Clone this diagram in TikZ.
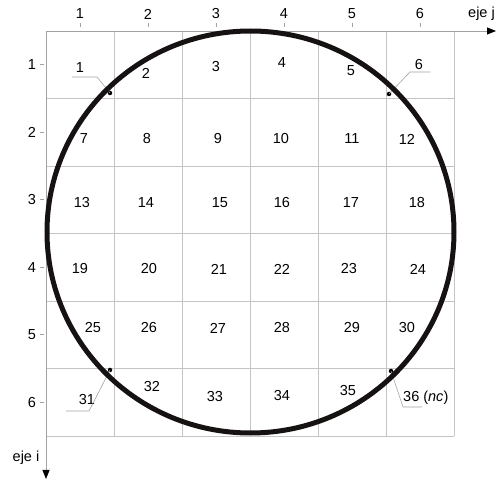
\documentclass[tikz,border=0pt]{standalone}
\usepackage{fontspec}
\setmainfont{Liberation Sans}
\usepackage{tikz}
\usetikzlibrary{arrows.meta, calc}
\usepackage{xcolor}
\definecolor{gridgray}{HTML}{C4C4C4}
\definecolor{axisgray}{HTML}{A2A2A2}
\definecolor{ringblack}{HTML}{161212}

\begin{document}
\begin{tikzpicture}[x=1pt, y=-1pt, font=\fontsize{14.5}{17}\selectfont,
  cellnum/.style={inner sep=0pt},
  axisnum/.style={inner sep=0pt},
  leader/.style={draw=axisgray, line width=0.6pt},
  spot/.style={circle, fill=black, inner sep=0pt, minimum size=4.5pt},
  axisline/.style={draw=axisgray, line width=0.9pt, -{Triangle[length=9pt, width=7pt, color=black]}}]
\useasboundingbox (0,0) rectangle (499,481);
% grid
\foreach \k in {1,...,6} {
  \draw[gridgray, line width=0.8pt] (46+68*\k,31) -- (46+68*\k,436);
  \draw[gridgray, line width=0.8pt] (46,31+67.5*\k) -- (454,31+67.5*\k);
}
% axes
\coordinate (origin) at (46,31);
\coordinate (jend) at (496,31);
\coordinate (iend) at (46,479);
\draw[axisline] (origin) -- (jend);
\draw[axisline] (origin) -- (iend);
\node[anchor=west, inner sep=0pt] (ejej) at (468,14) {eje j};
\node[inner sep=0pt] (ejei) at (26,458) {eje i};
\foreach \k in {1,...,6} {
  \node[axisnum] (col\k) at (46+68*\k-34,14) {\k};
  \draw[axisgray, line width=0.6pt] (46+68*\k-34,23) -- (46+68*\k-34,27.5);
  \node[axisnum] (row\k) at (32,31+67.5*\k-33.75) {\k};
  \draw[axisgray, line width=0.6pt] (39.5,31+67.5*\k-33.75) -- (44,31+67.5*\k-33.75);
}
% cell numbers
\foreach \n/\x/\y in {1/80/68, 2/146/73, 3/216/67, 4/282/63, 5/351/71, 6/419/65,
  7/84/139, 8/147/139, 9/218/139, 10/281/139, 11/352/139, 12/407/139,
  13/82/203, 14/146/203, 15/220/203, 16/282/203, 17/351/203, 18/417/203,
  19/80/269, 20/149/269, 21/219/269, 22/282/269, 23/349/269, 24/418/269,
  25/93/328, 26/149/328, 27/218/328, 28/282/328, 29/352/328, 30/407/328,
  31/87/400, 32/152/387, 33/215/397, 34/282/396, 35/348/391}
  \node[cellnum] (c\n) at (\x,\y) {\n};
\node[cellnum, anchor=west] (c36) at (403,398) {36 (\textit{nc})};
% corner points and leaders
\node[spot] (d1) at (110,93) {};
\node[spot] (d6) at (389,94) {};
\node[spot] (d31) at (110,370) {};
\node[spot] (d36) at (391,371) {};
\coordinate (l1a) at (72,77);   \coordinate (l1b) at (97,77);
\coordinate (l6a) at (430,72);  \coordinate (l6b) at (410,72);
\coordinate (l31a) at (66,411); \coordinate (l31b) at (89,411);
\coordinate (l36a) at (422,407); \coordinate (l36b) at (403,407);
\draw[leader] (l1a) -- (l1b) -- (d1.center);
\draw[leader] (l6a) -- (l6b) -- (d6.center);
\draw[leader] (l31a) -- (l31b) -- (d31.center);
\draw[leader] (l36a) -- (l36b) -- (d36.center);
% circle
\coordinate (ctr) at (250.5,232);
\draw[ringblack, line width=5pt] (ctr) ellipse [x radius=203.5pt, y radius=201pt];
\end{tikzpicture}
\end{document}
